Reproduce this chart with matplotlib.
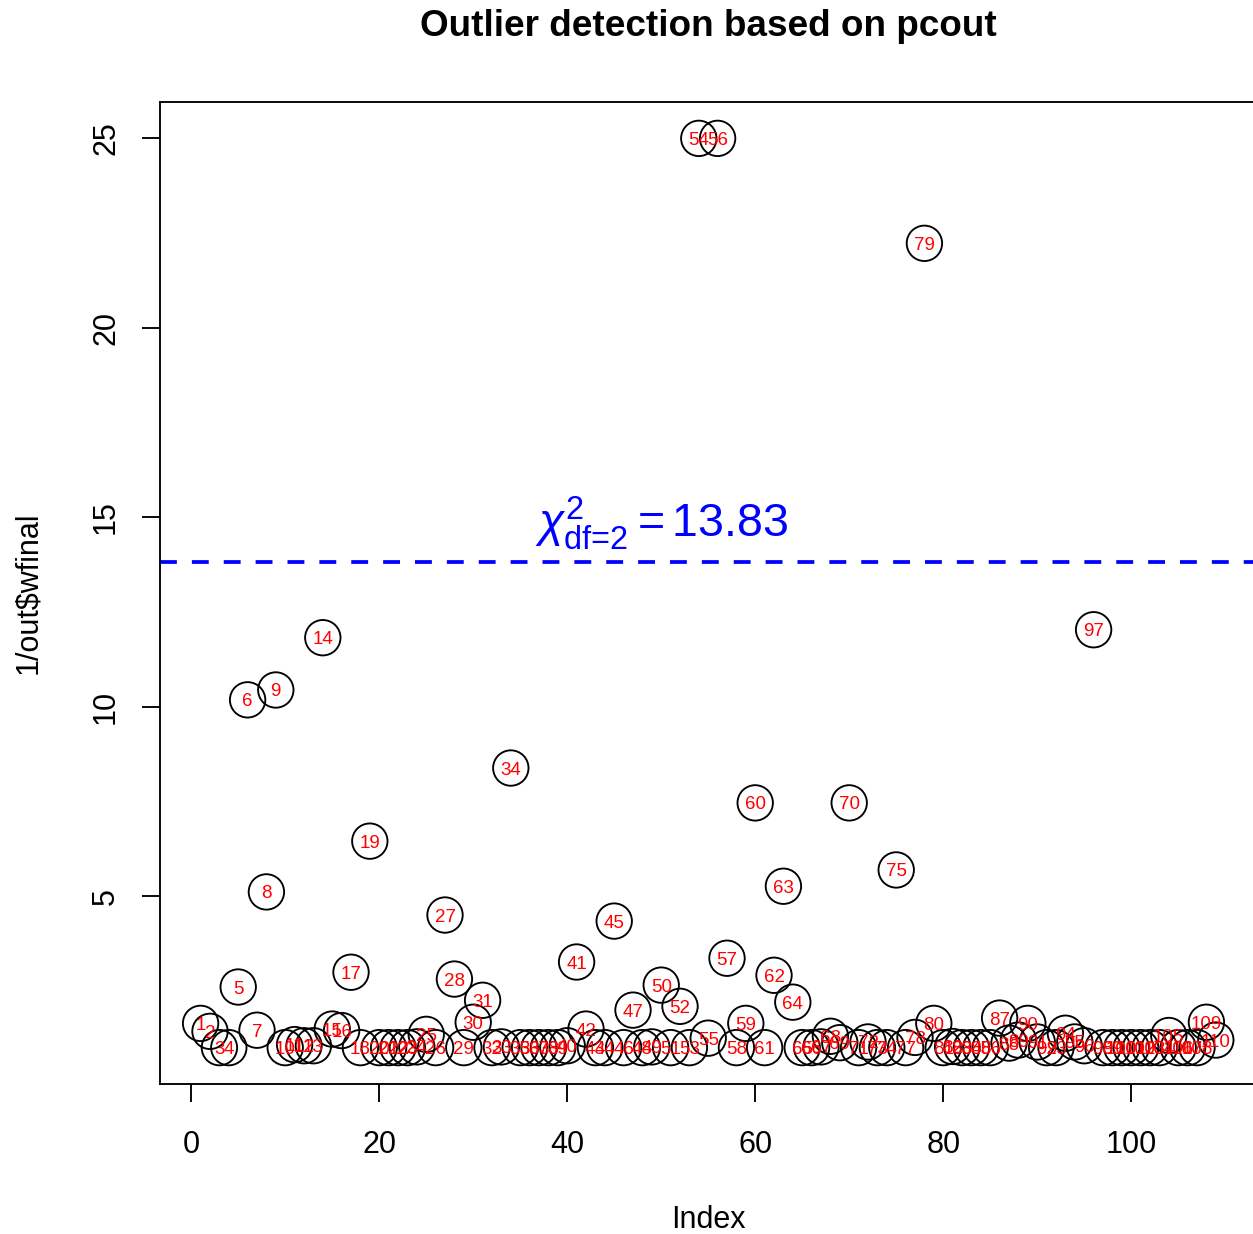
import matplotlib
matplotlib.use("Agg")
import matplotlib.pyplot as plt

plt.rcParams["font.family"] = ["Liberation Sans", "DejaVu Sans"]
plt.rcParams["mathtext.fontset"] = "custom"
plt.rcParams["mathtext.rm"] = "Liberation Sans"
plt.rcParams["mathtext.it"] = "Liberation Sans:italic"
plt.rcParams["mathtext.bf"] = "Liberation Sans:bold"

# 1/wfinal per observation (index 1..109); row 76 is absent from the labels
point_labels = [i for i in range(1, 111) if i != 76]
inv_wfinal = [
    1.64, 1.43, 1.00, 1.00, 2.60, 10.18, 1.46, 5.11, 10.44, 1.00,
    1.08, 1.05, 1.05, 11.82, 1.49, 1.45, 2.99, 1.00, 6.45, 1.00,
    1.00, 1.00, 1.00, 1.02, 1.35, 1.00, 4.50, 2.81, 1.00, 1.67,
    2.25, 1.00, 1.02, 8.38, 1.00, 1.00, 1.00, 1.00, 1.00, 1.05,
    3.26, 1.49, 1.00, 1.00, 4.34, 1.00, 1.99, 1.00, 1.02, 2.65,
    1.00, 2.09, 1.00, 25.00, 1.25, 25.00, 3.36, 1.00, 1.64, 7.46,
    1.00, 2.91, 5.26, 2.20, 1.00, 1.00, 1.02, 1.30, 1.13, 7.46,
    1.00, 1.15, 1.00, 1.00, 5.69, 1.00, 1.27, 22.23, 1.64, 1.00,
    1.03, 1.00, 1.00, 1.00, 1.00, 1.78, 1.12, 1.20, 1.64, 1.15,
    1.00, 1.00, 1.38, 1.15, 1.05, 12.03, 1.00, 1.00, 1.00, 1.00,
    1.00, 1.00, 1.00, 1.32, 1.00, 1.00, 1.00, 1.67, 1.20,
]
index = list(range(1, len(inv_wfinal) + 1))
chi2_cut = 13.83

W, H = 1253, 1234
fig = plt.figure(figsize=(W / 100, H / 100), dpi=100)
# plot region in pixels: left 160, top 102, bottom 1084, 9.4 px per index
x0, x1 = 1 - 0.04 * 108, 109 + 0.04 * 108
ax = fig.add_axes([160 / W, (H - 1084) / H, (x1 - x0) * 9.4 / W, 982 / H])

ax.scatter(index, inv_wfinal, s=650, facecolors="none", edgecolors="black",
           linewidths=1.35, zorder=2)
for xi, yi, lab in zip(index, inv_wfinal, point_labels):
    ax.text(xi, yi, str(lab), color="red", fontsize=13.5, ha="center",
            va="center_baseline", zorder=3)

ax.axhline(chi2_cut, color="blue", lw=2.7, ls=(0, (4.5, 4.0)), zorder=1)
ax.text(50, 14.48, r"$\chi^{2}_{\text{df=2}} = 13.83$", color="blue",
        fontsize=33.5, ha="center", va="baseline")

ax.set_xlim(x0, x1)
ax.set_ylim(1 - 0.04 * 24, 25 + 0.04 * 24)
ax.set_xticks([0, 20, 40, 60, 80, 100])
ax.set_yticks([5, 10, 15, 20, 25])
ax.tick_params(direction="out", length=13, width=1.35, labelsize=22,
               colors="black")
ax.tick_params(axis="x", pad=20)
ax.tick_params(axis="y", pad=15, labelrotation=90)
for t in ax.get_yticklabels():
    t.set_va("center")
for sp in ax.spines.values():
    sp.set_linewidth(1.35)

fig.text(708 / W, 1 - 26 / H, "Outlier detection based on pcout",
         fontsize=26.6, fontweight="bold", ha="center", va="center")
fig.text(708 / W, 1 - 1220 / H, "Index", fontsize=22, ha="center",
         va="center")
fig.text(28 / W, 1 - 593 / H, "1/out\\$wfinal", fontsize=22, ha="center",
         va="center", rotation=90)

fig.savefig("out.png", dpi=100)
